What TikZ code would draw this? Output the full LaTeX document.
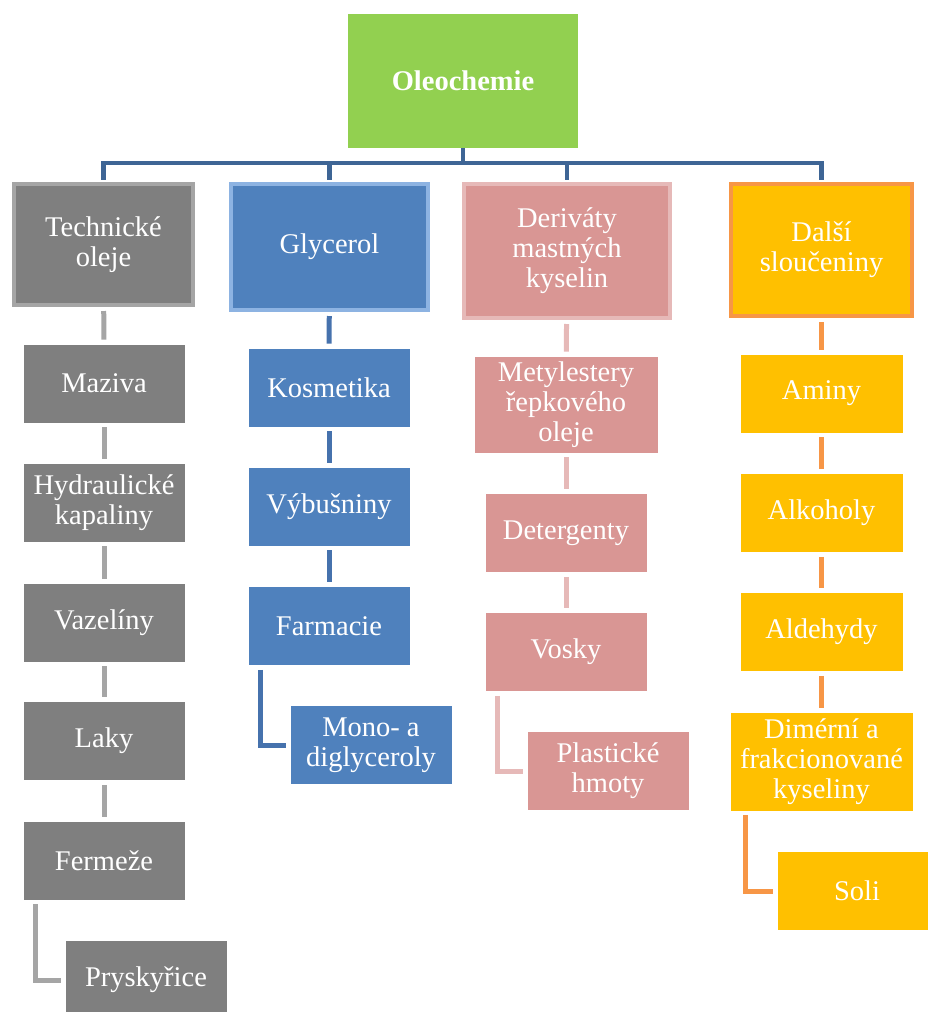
\documentclass[tikz,border=0pt]{standalone}
\usepackage{fontspec}
\setmainfont{Liberation Serif}
\usetikzlibrary{positioning}

\definecolor{rootgreen}{HTML}{92D050}
\definecolor{barblue}{HTML}{3E6595}
\definecolor{techgray}{HTML}{7F7F7F}
\definecolor{techedge}{HTML}{A5A5A5}
\definecolor{glyblue}{HTML}{4F81BD}
\definecolor{glyedge}{HTML}{8DB3E2}
\definecolor{glylink}{HTML}{4672AD}
\definecolor{derpink}{HTML}{D99694}
\definecolor{deredge}{HTML}{E6B9B8}
\definecolor{dalgold}{HTML}{FFC000}
\definecolor{daledge}{HTML}{F79646}

\begin{document}
\begin{tikzpicture}[x=1pt, y=-1pt,
    box/.style={rectangle, inner sep=0pt, align=center, text=white,
      font=\fontsize{28.5}{30}\selectfont},
    head/.style={box, line width=4pt},
    leaf/.style={box, draw=white, line width=0.8pt, minimum width=162pt, minimum height=79pt},
    mainlink/.style={draw=barblue, line width=4.5pt, shorten >=2pt},
    link/.style={line width=5pt, shorten <=4pt, shorten >=4pt}]
    \useasboundingbox (0,0) rectangle (928,1012);
    \clip (0,0) rectangle (928,1012);

    \node[box, fill=rootgreen, minimum width=230pt, minimum height=134pt,
      font=\fontsize{28.5}{30}\selectfont\bfseries] (root) at (463,81) {Oleochemie};

    \node[head, fill=techgray, draw=techedge, minimum width=179pt, minimum height=121pt] (tech) at (103.5,244.5) {Technické\\oleje};
    \node[head, fill=glyblue, draw=glyedge, minimum width=197pt, minimum height=126pt] (gly) at (329.5,247) {Glycerol};
    \node[head, fill=derpink, draw=deredge, minimum width=206pt, minimum height=134pt] (der) at (567,251) {Deriváty\\mastných\\kyselin};
    \node[head, fill=dalgold, draw=daledge, minimum width=181pt, minimum height=132pt] (dal) at (821.5,250) {Další\\sloučeniny};

    % technicke oleje
    \node[leaf, fill=techgray] (maz) at (104,383.5) {Maziva};
    \node[leaf, fill=techgray] (hyd) at (104,502.5) {Hydraulické\\kapaliny};
    \node[leaf, fill=techgray] (vaz) at (104,622.5) {Vazelíny};
    \node[leaf, fill=techgray] (lak) at (104,741) {Laky};
    \node[leaf, fill=techgray] (fer) at (104,860.5) {Fermeže};
    \node[leaf, fill=techgray] (pry) at (146,980) {Pryskyřice};

    % glycerol
    \node[leaf, fill=glyblue] (kos) at (329,387.5) {Kosmetika};
    \node[leaf, fill=glyblue] (vyb) at (329,506.5) {Výbušniny};
    \node[leaf, fill=glyblue] (far) at (329,626) {Farmacie};
    \node[leaf, fill=glyblue] (mono) at (371,745) {Mono- a\\diglyceroly};

    % derivaty
    \node[leaf, fill=derpink, minimum width=184pt, minimum height=97pt] (met) at (566,404.5) {Metylestery\\řepkového\\oleje};
    \node[leaf, fill=derpink] (det) at (566,533) {Detergenty};
    \node[leaf, fill=derpink] (vos) at (566,652) {Vosky};
    \node[leaf, fill=derpink] (pla) at (608,771) {Plastické\\hmoty};

    % dalsi slouceniny
    \node[leaf, fill=dalgold, minimum width=163pt] (ami) at (821.5,393.5) {Aminy};
    \node[leaf, fill=dalgold, minimum width=163pt] (alk) at (821.5,513) {Alkoholy};
    \node[leaf, fill=dalgold, minimum width=163pt] (ald) at (821.5,632) {Aldehydy};
    \node[leaf, fill=dalgold, minimum width=183pt, minimum height=99pt] (dim) at (821.5,761.5) {Dimérní a\\frakcionované\\kyseliny};
    \node[leaf, fill=dalgold, minimum width=160pt] (sol) at (857,891) {Soli};

    \coordinate (bar) at (463,163);
    \draw[mainlink] (root) -- (bar) -| (tech);
    \draw[mainlink] (root) -- (bar) -| (gly);
    \draw[mainlink] (root) -- (bar) -| (der);
    \draw[mainlink] (root) -- (bar) -| (dal);

    \draw[link, techedge] (tech) -- (maz);
    \draw[link, techedge] (maz) -- (hyd);
    \draw[link, techedge] (hyd) -- (vaz);
    \draw[link, techedge] (vaz) -- (lak);
    \draw[link, techedge] (lak) -- (fer);
    \draw[link, techedge] ([xshift=13pt]fer.south west) |- (pry.west);

    \draw[link, glylink] (gly) -- (kos);
    \draw[link, glylink] (kos) -- (vyb);
    \draw[link, glylink] (vyb) -- (far);
    \draw[link, glylink] ([xshift=13pt]far.south west) |- (mono.west);

    \draw[link, deredge] (der) -- (met);
    \draw[link, deredge] (met) -- (det);
    \draw[link, deredge] (det) -- (vos);
    \draw[link, deredge] ([xshift=13pt]vos.south west) |- (pla.west);

    \draw[link, daledge] (dal) -- (ami);
    \draw[link, daledge] (ami) -- (alk);
    \draw[link, daledge] (alk) -- (ald);
    \draw[link, daledge] (ald) -- (dim);
    \draw[link, daledge] ([xshift=16pt]dim.south west) |- (sol.west);
  \end{tikzpicture}
\end{document}
